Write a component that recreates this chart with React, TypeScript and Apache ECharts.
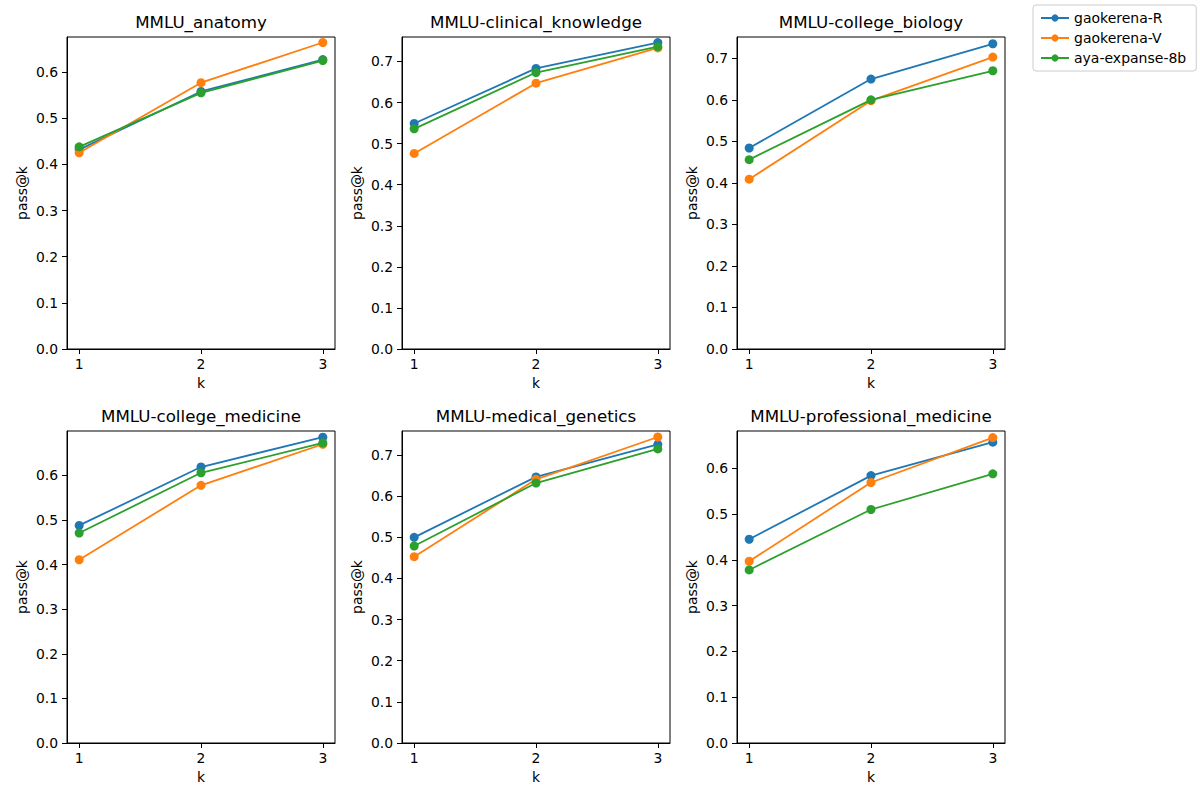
import React, { useEffect, useRef } from "react";
import * as echarts from "echarts";

const K = [1, 2, 3];
const MODELS = ["gaokerena-R", "gaokerena-V", "aya-expanse-8b"];
const COLORS = ["#1f77b4", "#ff7f0e", "#2ca02c"];
const TITLES = [
  "MMLU_anatomy",
  "MMLU-clinical_knowledge",
  "MMLU-college_biology",
  "MMLU-college_medicine",
  "MMLU-medical_genetics",
  "MMLU-professional_medicine",
];

// values per panel: [gaokerena-R, gaokerena-V, aya-expanse-8b], each for k = 1,2,3
const anatomyR = [0.432, 0.558, 0.627];
const anatomyV = [0.425, 0.577, 0.664];
const anatomyA = [0.438, 0.555, 0.625];

const clinicalR = [0.549, 0.683, 0.746];
const clinicalV = [0.476, 0.647, 0.733];
const clinicalA = [0.536, 0.673, 0.736];

const biologyR = [0.484, 0.65, 0.735];
const biologyV = [0.409, 0.598, 0.703];
const biologyA = [0.456, 0.6, 0.67];

const medicineR = [0.488, 0.619, 0.686];
const medicineV = [0.411, 0.578, 0.67];
const medicineA = [0.471, 0.606, 0.673];

const geneticsR = [0.5, 0.647, 0.726];
const geneticsV = [0.453, 0.641, 0.744];
const geneticsA = [0.479, 0.632, 0.715];

const professionalR = [0.445, 0.584, 0.657];
const professionalV = [0.397, 0.569, 0.667];
const professionalA = [0.378, 0.51, 0.588];

const PANELS = [
  [anatomyR, anatomyV, anatomyA],
  [clinicalR, clinicalV, clinicalA],
  [biologyR, biologyV, biologyA],
  [medicineR, medicineV, medicineA],
  [geneticsR, geneticsV, geneticsA],
  [professionalR, professionalV, professionalA],
];

const Y_TICKS = [0, 0.1, 0.2, 0.3, 0.4, 0.5, 0.6, 0.7];

const FONT = "DejaVu Sans";

export default function App() {
  const ref = useRef<HTMLDivElement>(null);
  useEffect(() => {
    document.body.style.margin = "0";
    const chart = echarts.init(ref.current!, null, { renderer: "svg" });
    const colLeft = [67, 402, 737];
    const rowTop = [37, 431];
    const W = 268;
    const H = 312;
    const grids: any[] = [];
    const xAxes: any[] = [];
    const yAxes: any[] = [];
    const series: any[] = [];
    const titles: any[] = [];
    PANELS.forEach((panel, i) => {
      const r = Math.floor(i / 3);
      const c = i % 3;
      const all = panel.flat();
      const lo = Math.min(...all);
      const hi = Math.max(...all);
      const yMax = hi + 0.05 * (hi - lo);
      grids.push({
        left: colLeft[c],
        top: rowTop[r],
        width: W,
        height: H,
        show: true,
        borderColor: "#000",
        borderWidth: 1,
        backgroundColor: "transparent",
      });
      titles.push({
        text: TITLES[i],
        left: colLeft[c] + W / 2,
        top: rowTop[r] - 24,
        textAlign: "center",
        padding: 0,
        textStyle: { fontFamily: FONT, fontSize: 16.7, fontWeight: "normal", color: "#000" },
      });
      xAxes.push({
        type: "value",
        gridIndex: i,
        min: 0.9,
        max: 3.1,
        name: "k",
        nameLocation: "middle",
        nameGap: 27,
        nameTextStyle: { fontFamily: FONT, fontSize: 13.9, color: "#000" },
        axisLine: { show: true, onZero: false, lineStyle: { color: "#000", width: 1 } },
        axisTick: { show: true, length: 5, customValues: K, lineStyle: { color: "#000" } },
        axisLabel: {
          show: true,
          customValues: K,
          margin: 8,
          fontFamily: FONT,
          fontSize: 13.9,
          color: "#000",
          formatter: (v: number) => String(Math.round(v)),
        },
        splitLine: { show: false },
      });
      const yt = Y_TICKS.filter((t) => t <= yMax + 1e-9);
      yAxes.push({
        type: "value",
        gridIndex: i,
        min: 0,
        max: yMax,
        name: "pass@k",
        nameLocation: "middle",
        nameGap: 38,
        nameRotate: 90,
        nameTextStyle: { fontFamily: FONT, fontSize: 13.9, color: "#000" },
        axisLine: { show: true, onZero: false, lineStyle: { color: "#000", width: 1 } },
        axisTick: { show: true, length: 5, customValues: yt, lineStyle: { color: "#000" } },
        axisLabel: {
          show: true,
          customValues: yt,
          margin: 9,
          fontFamily: FONT,
          fontSize: 13.9,
          color: "#000",
          formatter: (v: number) => v.toFixed(1),
        },
        splitLine: { show: false },
      });
      panel.forEach((vals, s) => {
        series.push({
          type: "line",
          name: MODELS[s],
          xAxisIndex: i,
          yAxisIndex: i,
          data: K.map((k, j) => [k, vals[j]]),
          symbol: "circle",
          symbolSize: 9,
          lineStyle: { color: COLORS[s], width: 1.8 },
          itemStyle: { color: COLORS[s] },
          z: 2 + s,
        });
      });
    });
    chart.setOption({
      animation: false,
      backgroundColor: "#fff",
      title: titles,
      grid: grids,
      xAxis: xAxes,
      yAxis: yAxes,
      series,
      legend: {
        data: MODELS,
        orient: "vertical",
        left: 1033,
        top: 5,
        itemWidth: 28,
        itemHeight: 9,
        itemGap: 6,
        padding: [6, 10, 6, 7],
        borderColor: "#cccccc",
        borderWidth: 1,
        borderRadius: 3,
        backgroundColor: "rgba(255,255,255,0.8)",
        textStyle: { fontFamily: FONT, fontSize: 14, color: "#000" },
      },
    });
    return () => chart.dispose();
  }, []);
  return <div ref={ref} style={{ width: 1200, height: 800 }} />;
}
